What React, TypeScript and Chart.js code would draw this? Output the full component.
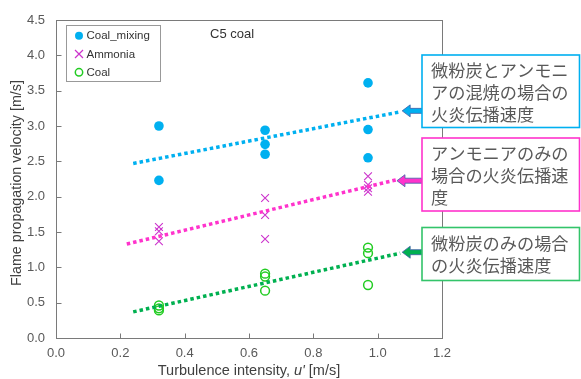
import React, { useEffect, useRef } from "react";
import { Chart, registerables } from "chart.js";

Chart.register(...registerables);

// ---- data ----
const coalMixingX = [0.32, 0.32, 0.65, 0.65, 0.65, 0.97, 0.97, 0.97];
const coalMixingY = [3.0, 2.23, 2.94, 2.74, 2.6, 3.61, 2.95, 2.55];
const ammoniaX = [0.32, 0.32, 0.32, 0.65, 0.65, 0.65, 0.97, 0.97, 0.97, 0.97];
const ammoniaY = [1.57, 1.51, 1.37, 1.98, 1.74, 1.4, 2.29, 2.17, 2.12, 2.07];
const coalX = [0.32, 0.32, 0.32, 0.65, 0.65, 0.65, 0.97, 0.97, 0.97];
const coalY = [0.46, 0.42, 0.39, 0.91, 0.87, 0.67, 1.28, 1.2, 0.75];

const trendMixX = [0.24, 1.07];
const trendMixY = [2.47, 3.2];
const trendAmmX = [0.22, 1.06];
const trendAmmY = [1.33, 2.24];
const trendCoalX = [0.24, 1.07];
const trendCoalY = [0.37, 1.2];

const xTicks = [0.0, 0.2, 0.4, 0.6, 0.8, 1.0, 1.2];
const yTicks = [0.0, 0.5, 1.0, 1.5, 2.0, 2.5, 3.0, 3.5, 4.0, 4.5];

const legendLabels = ["Coal_mixing", "Ammonia", "Coal"];
const chartLabel = "C5 coal";
const xTitleParts = ["Turbulence intensity, ", "u'", " [m/s]"];
const yTitle = "Flame propagation velocity [m/s]";
const noteMix = ["微粉炭とアンモニ", "アの混焼の場合の", "火炎伝播速度"];
const noteAmm = ["アンモニアのみの", "場合の火炎伝播速", "度"];
const noteCoal = ["微粉炭のみの場合", "の火炎伝播速度"];

const BLUE = "#00B0F0";
const MAGENTA = "#CC33CC";
const GREEN = "#22CC22";
const PINK = "#FF33CC";
const DGREEN = "#00B050";
const FONT = "'Liberation Sans', Arial, sans-serif";
const CJK = "'Noto Sans CJK JP', sans-serif";

const pts = (xs: number[], ys: number[]) => xs.map((x, i) => ({ x, y: ys[i] }));

const overlay = {
  id: "overlay",
  afterDraw(chart: any) {
    const { ctx, chartArea: ca, scales } = chart;
    const xs = scales.x;
    const ys = scales.y;
    ctx.save();
    // frame
    const L = Math.round(ca.left) + 0.5;
    const R = Math.round(ca.right) + 0.5;
    const T = Math.round(ca.top) + 0.5;
    const B = Math.round(ca.bottom) + 0.5;
    ctx.strokeStyle = "#7a7a7a";
    ctx.lineWidth = 1;
    ctx.strokeRect(L, T, R - L, B - T);
    // inward ticks
    ctx.beginPath();
    xTicks.forEach((v) => {
      const px = Math.round(xs.getPixelForValue(v)) + 0.5;
      ctx.moveTo(px, B);
      ctx.lineTo(px, B - 5);
    });
    yTicks.forEach((v) => {
      const py = Math.round(ys.getPixelForValue(v)) + 0.5;
      ctx.moveTo(L, py);
      ctx.lineTo(L + 5, py);
    });
    ctx.stroke();

    // legend box
    ctx.fillStyle = "#ffffff";
    ctx.fillRect(66.5, 25.5, 94, 56);
    ctx.strokeStyle = "#999999";
    ctx.strokeRect(66.5, 25.5, 94, 56);
    const ly = [35.7, 54, 72.3];
    const mx = 79;
    ctx.fillStyle = BLUE;
    ctx.beginPath();
    ctx.arc(mx, ly[0], 4, 0, Math.PI * 2);
    ctx.fill();
    ctx.strokeStyle = MAGENTA;
    ctx.lineWidth = 1.2;
    ctx.beginPath();
    ctx.moveTo(mx - 4, ly[1] - 4);
    ctx.lineTo(mx + 4, ly[1] + 4);
    ctx.moveTo(mx + 4, ly[1] - 4);
    ctx.lineTo(mx - 4, ly[1] + 4);
    ctx.stroke();
    ctx.strokeStyle = GREEN;
    ctx.lineWidth = 1.5;
    ctx.beginPath();
    ctx.arc(mx, ly[2], 3.7, 0, Math.PI * 2);
    ctx.stroke();
    ctx.fillStyle = "#333333";
    ctx.font = `11.5px ${FONT}`;
    ctx.textAlign = "left";
    ctx.textBaseline = "middle";
    legendLabels.forEach((t, i) => ctx.fillText(t, 86.5, ly[i] + 0.5));

    // C5 coal label
    ctx.font = `13px ${FONT}`;
    ctx.fillStyle = "#333333";
    ctx.fillText(chartLabel, 210, 34);

    // y title
    ctx.save();
    ctx.translate(17, 183);
    ctx.rotate(-Math.PI / 2);
    ctx.font = `14.3px ${FONT}`;
    ctx.fillStyle = "#404040";
    ctx.textAlign = "center";
    ctx.textBaseline = "middle";
    ctx.fillText(yTitle, 0, 0);
    ctx.restore();

    // x title with italic u'
    const fN = `14.5px ${FONT}`;
    const fI = `italic 14.5px ${FONT}`;
    ctx.textBaseline = "middle";
    ctx.textAlign = "left";
    ctx.font = fN;
    const w0 = ctx.measureText(xTitleParts[0]).width;
    const w2 = ctx.measureText(xTitleParts[2]).width;
    ctx.font = fI;
    const w1 = ctx.measureText(xTitleParts[1]).width;
    let sx = (ca.left + ca.right) / 2 - (w0 + w1 + w2) / 2;
    ctx.fillStyle = "#404040";
    ctx.font = fN;
    ctx.fillText(xTitleParts[0], sx, 371);
    sx += w0;
    ctx.font = fI;
    ctx.fillText(xTitleParts[1], sx, 371);
    sx += w1;
    ctx.font = fN;
    ctx.fillText(xTitleParts[2], sx, 371);

    // annotation boxes with arrows
    const boxL = 422;
    const boxR = 579.5;
    const drawNote = (
      lines: string[],
      top: number,
      bottom: number,
      color: string,
      arrowColor: string,
      tipX: number,
      tipY: number
    ) => {
      ctx.beginPath();
      ctx.moveTo(tipX, tipY);
      ctx.lineTo(tipX + 8, tipY - 6);
      ctx.lineTo(tipX + 8, tipY - 2.5);
      ctx.lineTo(boxL, tipY - 2.5);
      ctx.lineTo(boxL, tipY + 2.5);
      ctx.lineTo(tipX + 8, tipY + 2.5);
      ctx.lineTo(tipX + 8, tipY + 6);
      ctx.closePath();
      ctx.fillStyle = arrowColor;
      ctx.fill();
      ctx.strokeStyle = "#3F5FA8";
      ctx.lineWidth = 0.8;
      ctx.stroke();
      ctx.fillStyle = "#ffffff";
      ctx.fillRect(boxL, top, boxR - boxL, bottom - top);
      ctx.strokeStyle = color;
      ctx.lineWidth = 1.6;
      ctx.strokeRect(boxL, top, boxR - boxL, bottom - top);
      ctx.fillStyle = "#595959";
      ctx.font = `17.2px ${CJK}`;
      ctx.textAlign = "left";
      ctx.textBaseline = "middle";
      lines.forEach((t, i) => ctx.fillText(t, 431, top + 15.5 + i * 22));
    };
    const endMix = { x: xs.getPixelForValue(trendMixX[1]), y: ys.getPixelForValue(trendMixY[1]) };
    const endAmm = { x: xs.getPixelForValue(trendAmmX[1]), y: ys.getPixelForValue(trendAmmY[1]) };
    const endCoal = { x: xs.getPixelForValue(trendCoalX[1]), y: ys.getPixelForValue(trendCoalY[1]) };
    drawNote(noteMix, 55, 127.5, BLUE, BLUE, endMix.x + 2, endMix.y - 1);
    drawNote(noteAmm, 138, 211, PINK, PINK, endAmm.x + 0, endAmm.y + 1);
    drawNote(noteCoal, 227.5, 280.5, "#33C46A", DGREEN, endCoal.x + 2, endCoal.y - 1);
    ctx.restore();
  },
};

export default function App() {
  const ref = useRef<HTMLCanvasElement>(null);
  useEffect(() => {
    if (!ref.current) return;
    const trend = (xsArr: number[], ysArr: number[], color: string) => ({
      type: "scatter" as const,
      data: pts(xsArr, ysArr),
      showLine: true,
      borderColor: color,
      backgroundColor: color,
      borderWidth: 3.5,
      borderDash: [3.5, 3],
      borderCapStyle: "butt" as const,
      pointRadius: 0,
      pointHoverRadius: 0,
      fill: false,
    });
    const chart = new Chart(ref.current, {
      type: "scatter",
      data: {
        datasets: [
          trend(trendMixX, trendMixY, BLUE),
          trend(trendAmmX, trendAmmY, PINK),
          trend(trendCoalX, trendCoalY, DGREEN),
          {
            label: legendLabels[0],
            data: pts(coalMixingX, coalMixingY),
            pointStyle: "circle",
            pointRadius: 4.8,
            backgroundColor: BLUE,
            borderColor: BLUE,
            borderWidth: 0,
          },
          {
            label: legendLabels[1],
            data: pts(ammoniaX, ammoniaY),
            pointStyle: "crossRot",
            pointRadius: 5.5,
            backgroundColor: MAGENTA,
            borderColor: MAGENTA,
            borderWidth: 1.1,
          },
          {
            label: legendLabels[2],
            data: pts(coalX, coalY),
            pointStyle: "circle",
            pointRadius: 4.4,
            backgroundColor: "rgba(0,0,0,0)",
            borderColor: GREEN,
            borderWidth: 1.5,
          },
        ],
      },
      options: {
        responsive: false,
        animation: false,
        layout: { padding: { top: 20, right: 139, bottom: 0, left: 0 } },
        plugins: {
          legend: { display: false },
          tooltip: { enabled: false },
          title: { display: false },
        },
        scales: {
          x: {
            type: "linear",
            min: 0,
            max: 1.2,
            afterFit: (s: any) => {
              s.height = 41;
            },
            afterBuildTicks: (s: any) => {
              s.ticks = xTicks.map((v) => ({ value: v }));
            },
            grid: { display: false, drawTicks: false },
            border: { display: false },
            ticks: {
              padding: 8,
              color: "#595959",
              font: { family: FONT, size: 13 },
              callback: (v: any) => Number(v).toFixed(1),
            },
          },
          y: {
            type: "linear",
            min: 0,
            max: 4.5,
            afterFit: (s: any) => {
              s.width = 56;
            },
            afterBuildTicks: (s: any) => {
              s.ticks = yTicks.map((v) => ({ value: v }));
            },
            grid: { display: false, drawTicks: false },
            border: { display: false },
            ticks: {
              padding: 11,
              color: "#595959",
              font: { family: FONT, size: 13 },
              callback: (v: any) => Number(v).toFixed(1),
            },
          },
        },
      },
      plugins: [overlay],
    } as any);
    return () => chart.destroy();
  }, []);
  return (
    <div style={{ position: "absolute", left: 0, top: 0, width: 581, height: 379, background: "#fff" }}>
      <canvas ref={ref} width={581} height={379} style={{ width: 581, height: 379, display: "block" }} />
    </div>
  );
}
